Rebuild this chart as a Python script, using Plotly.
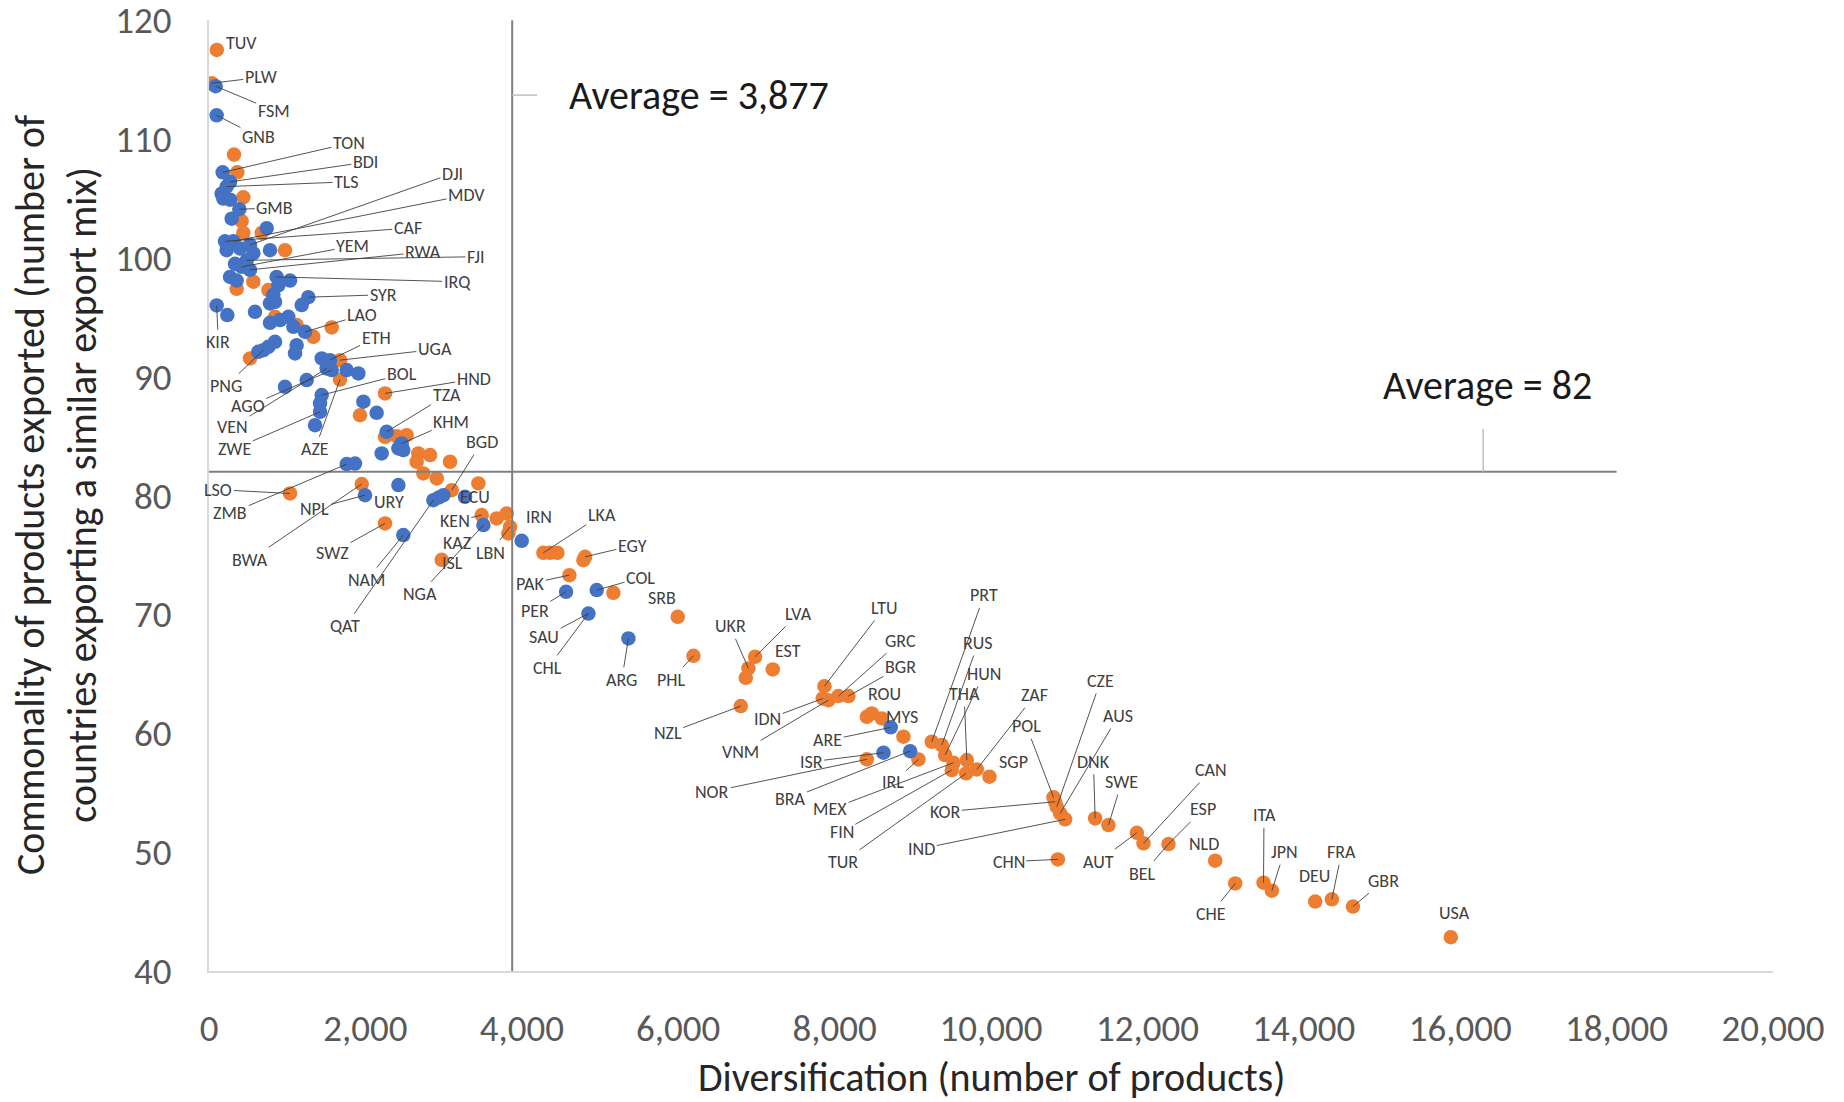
import plotly.graph_objects as go

# ---------------- data ----------------
ORANGE_CODE = [
    "TUV", "PLW", "", "", "", "", "", "", "", "",
    "", "", "", "", "", "", "", "UGA", "AZE", "HND",
    "", "", "", "", "", "", "", "", "", "",
    "BGD", "", "LSO", "BWA", "SWZ", "ISL", "KEN", "KAZ", "", "LBN",
    "IRN", "LKA", "", "", "EGY", "", "PAK", "", "SRB", "PHL",
    "LVA", "UKR", "", "EST", "NZL", "LTU", "IDN", "VNM", "GRC", "BGR",
    "", "ROU", "MYS", "", "NOR", "IRL", "PRT", "RUS", "HUN", "MEX",
    "FIN", "THA", "TUR", "ZAF", "SGP", "POL", "CZE", "KOR", "AUS", "IND",
    "DNK", "SWE", "AUT", "CAN", "ESP", "NLD", "CHN", "CHE", "ITA", "JPN",
    "DEU", "FRA", "GBR", "USA"]
ORANGE_X = [
    100, 35, 320, 362, 439, 418, 439, 674, 972, 567,
    354, 759, 844, 1121, 1334, 1569, 524, 1675, 1675, 2251,
    1931, 2251, 2400, 2528, 2677, 2827, 2656, 2741, 2912, 3082,
    3104, 3445, 1036, 1953, 2251, 2976, 3487, 3679, 3807, 3850,
    3828, 4276, 4361, 4455, 4809, 4788, 4609, 5171, 5994, 6195,
    6983, 6898, 6864, 7209, 6800, 7870, 7849, 7921, 8049, 8177,
    8412, 8476, 8603, 8880, 8412, 9072, 9243, 9371, 9413, 9520,
    9499, 9691, 9682, 9818, 9980, 10799, 10842, 10820, 10884, 10948,
    11332, 11502, 11865, 11950, 12270, 12867, 10855, 13123, 13485, 13592,
    14146, 14359, 14628, 15880]
ORANGE_Y = [
    117.5, 114.7, 108.7, 107.2, 105.1, 103.1, 102.1, 102.1, 100.65, 98.0,
    97.4, 97.3, 95.05, 94.35, 93.36, 94.15, 91.54, 91.4, 89.77, 88.6,
    86.77, 84.95, 85.0, 85.09, 83.55, 83.41, 82.85, 81.87, 81.45, 82.85,
    80.46, 81.03, 80.18, 80.97, 77.66, 74.6, 78.36, 78.08, 78.5, 77.38,
    76.82, 75.19, 75.19, 75.19, 74.85, 74.57, 73.31, 71.82, 69.8, 66.52,
    66.44, 65.46, 64.67, 65.37, 62.29, 63.97, 62.93, 62.79, 63.13, 63.13,
    61.39, 61.67, 61.25, 59.72, 57.81, 57.8, 59.29, 59.01, 58.17, 57.52,
    56.91, 57.75, 56.63, 56.96, 56.35, 54.61, 53.82, 54.24, 53.26, 52.76,
    52.84, 52.28, 51.63, 50.74, 50.68, 49.28, 49.39, 47.37, 47.43, 46.76,
    45.84, 46.03, 45.42, 42.85]

BLUE_CODE = [
    "FSM", "GNB", "TON", "BDI", "TLS", "", "", "", "GMB", "",
    "", "CAF", "MDV", "", "", "DJI", "", "FJI", "", "YEM",
    "RWA", "", "", "", "IRQ", "", "", "", "SYR", "",
    "", "", "KIR", "", "", "", "", "", "", "LAO",
    "", "", "PNG", "", "", "", "", "ETH", "VEN", "AGO",
    "", "", "", "", "BOL", "", "ZWE", "", "", "",
    "TZA", "KHM", "", "", "", "ZMB", "", "URY", "NPL", "QAT",
    "", "", "ECU", "NGA", "NAM", "", "PER", "COL", "SAU", "ARG",
    "ARE", "ISR", "BRA"]
BLUE_X = [
    85, 98, 175, 269, 226, 162, 183, 269, 388, 290,
    738, 205, 311, 226, 396, 524, 567, 482, 333, 418,
    524, 269, 354, 780, 865, 1036, 887, 823, 1270, 1185,
    780, 844, 98, 234, 588, 780, 908, 1015, 1079, 1228,
    844, 759, 695, 630, 1121, 1100, 1441, 1548, 1505, 1569,
    1761, 1910, 972, 1249, 1441, 1420, 1420, 1356, 1974, 2144,
    2272, 2464, 2485, 2422, 2208, 1761, 1867, 2422, 1995, 2869,
    2940, 2997, 3274, 3509, 2485, 3999, 4566, 4958, 4852, 5363,
    8718, 8625, 8966]
BLUE_Y = [
    114.45, 112.0, 107.2, 106.4, 106.0, 105.4, 105.0, 104.9, 104.1, 103.3,
    102.5, 101.4, 101.4, 100.65, 100.8, 101.1, 100.4, 99.8, 99.5, 99.25,
    99.0, 98.4, 98.1, 100.65, 98.4, 98.1, 97.7, 96.9, 96.7, 96.03,
    96.17, 96.31, 96.0, 95.19, 95.47, 94.54, 94.77, 95.05, 94.2, 93.78,
    92.94, 92.52, 92.24, 92.1, 92.66, 91.96, 91.54, 91.4, 90.7, 90.56,
    90.56, 90.28, 89.16, 89.72, 88.46, 87.76, 87.05, 85.93, 87.9, 86.97,
    85.37, 84.39, 83.83, 83.97, 83.55, 82.65, 82.7, 80.89, 80.04, 79.62,
    79.85, 80.04, 79.9, 77.52, 76.68, 76.2, 71.91, 72.05, 70.08, 67.98,
    60.5, 58.37, 58.5]

AVG_X = 3877
AVG_Y = 82
AVG_X_TEXT = "Average = 3,877"
AVG_Y_TEXT = "Average = 82"

X_TICKS = [0, 2000, 4000, 6000, 8000, 10000, 12000, 14000, 16000, 18000, 20000]
Y_TICKS = [40, 50, 60, 70, 80, 90, 100, 110, 120]
X_TITLE = "Diversification (number of products)"
Y_TITLE = "Commonality of products exported (number of<br>countries exporting a similar export mix)"

# ---------------- layout helpers (label placement, in axis units) ----------------
LABEL_POS = {
    "TUV": (421, 118.1), "PLW": (662, 115.2), "FSM": (827, 112.4), "GNB": (632, 110.2),
    "TON": (1790, 109.65), "BDI": (2000, 108.05), "TLS": (1760, 106.4), "DJI": (3113, 107.1),
    "MDV": (3294, 105.3), "GMB": (842, 104.2), "CAF": (2542, 102.5), "YEM": (1835, 101.0),
    "RWA": (2737, 100.5), "FJI": (3414, 100.1), "IRQ": (3173, 98.0), "SYR": (2226, 96.9),
    "LAO": (1955, 95.2), "KIR": (120, 92.9), "ETH": (2136, 93.3), "UGA": (2888, 92.3),
    "PNG": (211, 89.2), "BOL": (2467, 90.2), "HND": (3384, 89.8), "AGO": (496, 87.5),
    "TZA": (3038, 88.45), "VEN": (301, 85.8), "KHM": (3098, 86.2), "ZWE": (331, 83.95),
    "AZE": (1354, 83.9), "BGD": (3489, 84.5), "LSO": (120, 80.5), "ZMB": (271, 78.5),
    "NPL": (1354, 78.9), "URY": (2301, 79.45), "ECU": (3399, 79.9), "KEN": (3143, 77.85),
    "IRN": (4226, 78.2), "KAZ": (3173, 76.05), "LBN": (3595, 75.2), "ISL": (3113, 74.35),
    "SWZ": (1579, 75.2), "BWA": (526, 74.6), "NAM": (2015, 72.9), "NGA": (2692, 71.7),
    "QAT": (1745, 69.0), "PAK": (4106, 72.6), "PER": (4166, 70.3), "SAU": (4286, 68.1),
    "CHL": (4332, 65.5), "COL": (5520, 73.1), "LKA": (5023, 78.4), "EGY": (5414, 75.8),
    "ARG": (5279, 64.5), "SRB": (5790, 71.4), "PHL": (5911, 64.5), "UKR": (6663, 69.0),
    "LVA": (7535, 70.05), "EST": (7400, 66.9), "NZL": (5866, 60.0), "LTU": (8633, 70.55),
    "GRC": (8844, 67.8), "BGR": (8844, 65.6), "ROU": (8633, 63.3), "IDN": (7144, 61.2),
    "VNM": (6798, 58.4), "MYS": (8859, 61.4), "ARE": (7911, 59.4), "ISR": (7700, 57.6),
    "NOR": (6437, 55.1), "BRA": (7430, 54.5), "IRL": (8753, 55.9), "MEX": (7941, 53.6),
    "FIN": (8092, 51.7), "TUR": (8107, 49.2), "IND": (9114, 50.3), "KOR": (9415, 53.4),
    "PRT": (9911, 71.6), "RUS": (9836, 67.6), "HUN": (9911, 65.0), "THA": (9656, 63.3),
    "ZAF": (10558, 63.2), "SGP": (10287, 57.6), "POL": (10453, 60.6), "CZE": (11400, 64.4),
    "AUS": (11626, 61.45), "DNK": (11310, 57.6), "SWE": (11671, 55.9), "CAN": (12814, 56.9),
    "ESP": (12709, 53.6), "AUT": (11370, 49.2), "BEL": (11942, 48.2), "NLD": (12724, 50.7),
    "CHN": (10227, 49.2), "CHE": (12814, 44.8), "ITA": (13491, 53.1), "JPN": (13747, 50.0),
    "DEU": (14138, 48.0), "FRA": (14484, 50.0), "GBR": (15025, 47.6), "USA": (15927, 44.9),
}
LABEL_TARGET = {"BEL": "ESP", "CHL": "SAU"}
NO_LEADER = {"TUV", "ECU", "SRB", "EST", "ROU", "NLD", "SGP", "DEU", "URY", "USA",
             "ISL", "IRN", "KAZ", "MYS"}

ORANGE = "#ED7D31"
BLUE = "#4472C4"
FONT = "Carlito, Lato, 'Open Sans', sans-serif"
LABEL_SIZE = 18

fig = go.Figure()
fig.add_trace(go.Scatter(x=ORANGE_X, y=ORANGE_Y, mode="markers", text=ORANGE_CODE,
                         marker=dict(color=ORANGE, size=14.5, line=dict(width=0)),
                         showlegend=False, hoverinfo="text+x+y"))
fig.add_trace(go.Scatter(x=BLUE_X, y=BLUE_Y, mode="markers", text=BLUE_CODE,
                         marker=dict(color=BLUE, size=14.5, line=dict(width=0)),
                         showlegend=False, hoverinfo="text+x+y"))

# average lines
fig.add_trace(go.Scatter(x=[AVG_X, AVG_X], y=[Y_TICKS[0], Y_TICKS[-1]], mode="lines",
                         line=dict(color="#7F7F7F", width=2), showlegend=False, hoverinfo="skip"))
fig.add_trace(go.Scatter(x=[X_TICKS[0], 18000], y=[AVG_Y, AVG_Y], mode="lines",
                         line=dict(color="#7F7F7F", width=2), showlegend=False, hoverinfo="skip"))

points = {}
for c, x, y in zip(ORANGE_CODE, ORANGE_X, ORANGE_Y):
    if c:
        points[c] = (x, y)
for c, x, y in zip(BLUE_CODE, BLUE_X, BLUE_Y):
    if c:
        points[c] = (x, y)

annotations = []
for code, (lx, ly) in LABEL_POS.items():
    tx, ty = points[LABEL_TARGET.get(code, code)]
    if code in NO_LEADER:
        annotations.append(dict(x=lx, y=ly, xref="x", yref="y", text=code, showarrow=False,
                                font=dict(family=FONT, size=LABEL_SIZE, color="#404040")))
    else:
        annotations.append(dict(x=tx, y=ty, xref="x", yref="y", ax=lx, ay=ly,
                                axref="x", ayref="y", text=code, showarrow=True,
                                arrowhead=0, arrowwidth=0.9, arrowcolor="#404040",
                                standoff=0, startstandoff=0,
                                font=dict(family=FONT, size=LABEL_SIZE, color="#404040")))

# average labels
annotations.append(dict(x=6261, y=113.7, xref="x", yref="y", text=AVG_X_TEXT, showarrow=False,
                        font=dict(family=FONT, size=40, color="#1a1a1a")))
annotations.append(dict(x=16353, y=89.24, xref="x", yref="y", text=AVG_Y_TEXT, showarrow=False,
                        font=dict(family=FONT, size=40, color="#1a1a1a")))
# axis titles
annotations.append(dict(x=0.5, y=-0.1125, xref="paper", yref="paper", text=X_TITLE,
                        showarrow=False, xanchor="center", yanchor="middle",
                        font=dict(family=FONT, size=40, color="#262626")))
annotations.append(dict(x=-0.0975, y=0.5, xref="paper", yref="paper", text=Y_TITLE,
                        showarrow=False, xanchor="center", yanchor="middle", textangle=-90,
                        font=dict(family=FONT, size=40, color="#262626")))

shapes = [
    dict(type="line", xref="x", yref="y", x0=AVG_X, x1=4195, y0=113.7, y1=113.7,
         line=dict(color="#BFBFBF", width=1.5)),
    dict(type="line", xref="x", yref="y", x0=16294, x1=16294, y0=85.6, y1=AVG_Y,
         line=dict(color="#BFBFBF", width=1.5)),
]

fig.update_layout(
    width=1844, height=1102,
    margin=dict(l=209, r=71, t=20, b=131, autoexpand=False),
    paper_bgcolor="white", plot_bgcolor="white",
    annotations=annotations, shapes=shapes,
    xaxis=dict(range=[0, 20000], tickvals=X_TICKS, tickformat=",d", showgrid=False,
               zeroline=False, showline=True, linecolor="#D9D9D9", linewidth=2,
               ticks="outside", ticklen=24, tickcolor="rgba(0,0,0,0)",
               ticklabeloverflow="allow", automargin=False,
               tickfont=dict(family=FONT, size=37, color="#595959")),
    yaxis=dict(range=[40, 120.02], tickvals=Y_TICKS, showgrid=False, zeroline=False,
               showline=True, linecolor="#D9D9D9", linewidth=2,
               ticks="outside", ticklen=28, tickcolor="rgba(0,0,0,0)",
               ticklabeloverflow="allow", automargin=False,
               tickfont=dict(family=FONT, size=37, color="#595959")),
    hovermode="closest",
)

fig.write_html("out.html", config={"displayModeBar": False},
               post_script="document.body.style.margin='0px';document.body.style.overflow='hidden';")
